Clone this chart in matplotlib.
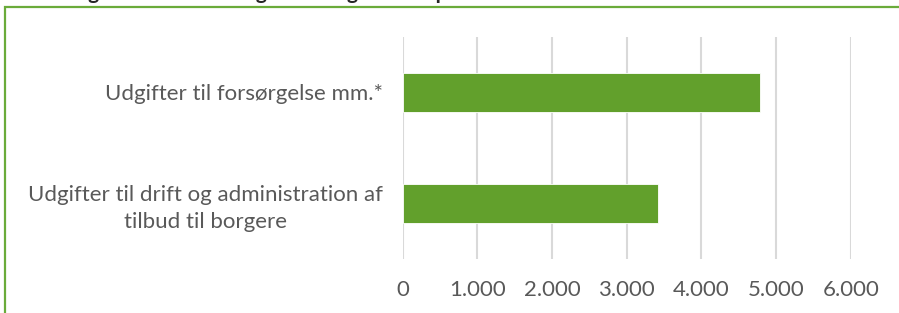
import matplotlib.pyplot as plt
from matplotlib.patches import Rectangle

plt.rcParams['font.family'] = ['Lato', 'DejaVu Sans']

categories = ["Udgifter til drift og administration af\ntilbud til borgere",
              "Udgifter til forsørgelse mm.*"]
values = [3415, 4790]
xticks = [0, 1000, 2000, 3000, 4000, 5000, 6000]
xtick_labels = ["0", "1.000", "2.000", "3.000", "4.000", "5.000", "6.000"]

BAR = "#62a02c"
GRID = "#d9d9d9"
TEXT = "#595959"

fig = plt.figure(figsize=(8.99, 3.13), dpi=100)
ax = fig.add_axes([0.448, 0.1735, 0.4983, 0.7093])

ax.barh(range(len(categories)), values, height=0.35, color=BAR,
        edgecolor="white", linewidth=0.6, zorder=3)
ax.set_xlim(0, 6000)
ax.set_ylim(-0.5, len(categories) - 0.5)
ax.set_xticks(xticks)
ax.set_xticklabels(xtick_labels)
ax.set_yticks(range(len(categories)))
ax.set_yticklabels(categories)
for lbl in ax.get_yticklabels():
    lbl.set_multialignment("center")
    lbl.set_linespacing(1.45)

ax.grid(axis="x", color=GRID, linewidth=1.5, zorder=0)
for s in ax.spines.values():
    s.set_visible(False)
ax.tick_params(axis="both", length=0, colors=TEXT, labelsize=16)
ax.tick_params(axis="x", pad=15)
ax.tick_params(axis="y", pad=14)

# green frame around chart area (runs past right/bottom edge)
fig.patches.append(Rectangle((5 / 899, -0.1), 1.2, 1 - 7 / 313 + 0.1,
                             transform=fig.transFigure, fill=False,
                             edgecolor="#6aab3a", linewidth=1.6))

# title, mostly cut off above the image
fig.text(0.012, 1 + 1 / 313, "Fordeling af netto driftsudgifter budget 2019 på områder",
         fontsize=15, weight="bold", color="#262626", va="baseline", ha="left")

fig.savefig("out.png", dpi=100)
